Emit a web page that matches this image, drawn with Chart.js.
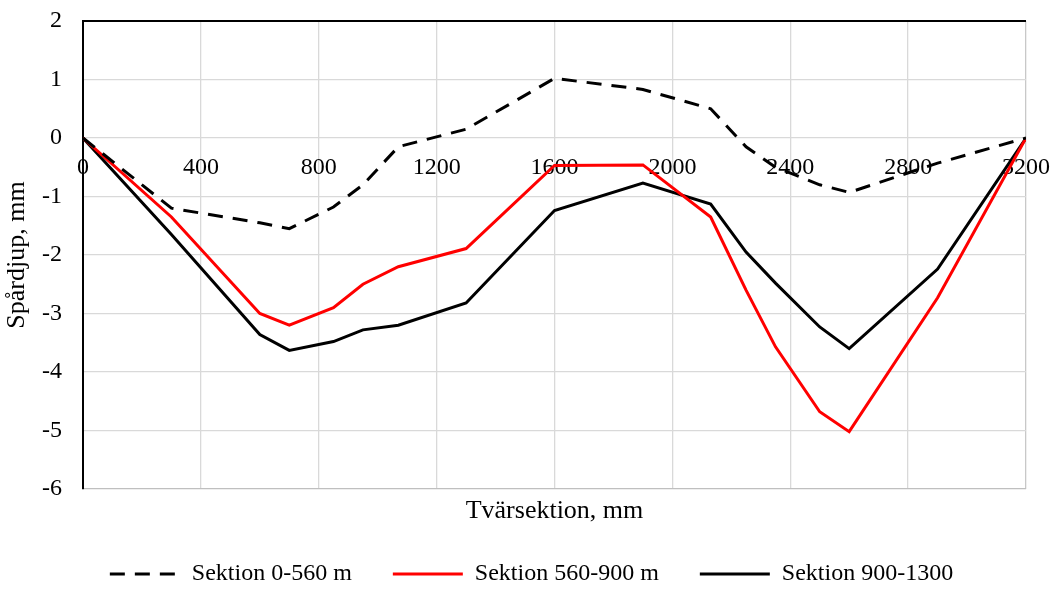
<!DOCTYPE html>
<html>
<head>
<meta charset="utf-8">
<script src="https://cdn.jsdelivr.net/npm/chart.js@4.4.0/dist/chart.umd.min.js"></script>
<style>
  html, body { margin: 0; padding: 0; background: #fff; }
</style>
</head>
<body>
<canvas id="myChart" width="1051" height="590"></canvas>
<script>
document.addEventListener("DOMContentLoaded", function () {
  const ctx = document.getElementById('myChart').getContext('2d');

  // Tvärsektion (mm) och spårdjup (mm) per sektion
  const tvarsektion = [0, 300, 600, 700, 850, 950, 1070, 1300, 1600, 1900, 2130, 2250, 2350, 2500, 2600, 2900, 3200];
  const sektion0_560 = [0, -1.2, -1.45, -1.55, -1.18, -0.8, -0.15, 0.15, 1.02, 0.83, 0.5, -0.15, -0.5, -0.8, -0.93, -0.43, 0];
  const sektion560_900 = [0, -1.35, -3.0, -3.2, -2.9, -2.5, -2.2, -1.89, -0.47, -0.46, -1.35, -2.6, -3.57, -4.68, -5.02, -2.73, 0];
  const sektion900_1300 = [0, -1.65, -3.36, -3.63, -3.48, -3.28, -3.2, -2.82, -1.24, -0.77, -1.13, -1.95, -2.48, -3.23, -3.6, -2.24, 0];
  const serieNamn = ['Sektion 0-560 m', 'Sektion 560-900 m', 'Sektion 900-1300'];

  const typsnitt = "'Liberation Serif', 'Times New Roman', serif";
  const punkter = (yv) => tvarsektion.map((x, i) => ({ x: x, y: yv[i] }));

  const myChart = new Chart(ctx, {
    type: 'line',
    data: {
      datasets: [{
        label: serieNamn[0],
        data: punkter(sektion0_560),
        borderColor: '#000000',
        backgroundColor: '#000000',
        borderWidth: 3,
        borderDash: [15, 10],
        pointRadius: 0,
        tension: 0
      }, {
        label: serieNamn[1],
        data: punkter(sektion560_900),
        borderColor: '#ff0000',
        backgroundColor: '#ff0000',
        borderWidth: 3,
        pointRadius: 0,
        tension: 0
      }, {
        label: serieNamn[2],
        data: punkter(sektion900_1300),
        borderColor: '#000000',
        backgroundColor: '#000000',
        borderWidth: 3,
        pointRadius: 0,
        tension: 0
      }]
    },
    options: {
      responsive: false,
      animation: false,
      layout: { padding: { left: 12, right: 0, top: 21, bottom: 0 } },
      scales: {
        x: {
          type: 'linear',
          min: 0,
          max: 3200,
          position: { y: 0 },
          ticks: {
            stepSize: 400,
            autoSkip: false,
            maxRotation: 0,
            padding: 15,
            color: '#000',
            font: { family: typsnitt, size: 24 },
            callback: (v) => String(v)
          },
          grid: {
            color: (c) => c.tick && c.tick.value === 3200 ? '#c8c8c8' : '#d9d9d9',
            lineWidth: 1.3,
            drawTicks: false
          },
          border: { display: false },
          afterFit: (s) => { s.paddingLeft = 0; s.paddingRight = 25; }
        },
        xb: {
          type: 'linear',
          position: 'bottom',
          min: 0,
          max: 3200,
          ticks: { display: false },
          grid: { display: false, drawTicks: false },
          border: { display: false },
          title: {
            display: true,
            text: 'Tvärsektion, mm',
            color: '#000',
            font: { family: typsnitt, size: 26 },
            padding: { top: 6.4, bottom: -5.6 }
          }
        },
        y: {
          min: -6,
          max: 2,
          ticks: {
            stepSize: 1,
            padding: 21,
            color: '#000',
            font: { family: typsnitt, size: 24 }
          },
          grid: {
            color: (c) => {
              if (!c.tick) return '#d9d9d9';
              if (c.tick.value === 2) return '#000000';
              if (c.tick.value === -6) return '#bfbfbf';
              return '#d9d9d9';
            },
            lineWidth: (c) => c.tick && c.tick.value === 2 ? 2 : 1.3,
            drawTicks: false
          },
          border: { display: true, color: '#000', width: 2 },
          title: {
            display: true,
            text: 'Spårdjup, mm',
            color: '#000',
            font: { family: typsnitt, size: 26 },
            padding: { top: -10, bottom: 0 }
          },
          afterFit: (s) => { s.width = 71; s.paddingTop = 0; s.paddingBottom = 0; }
        }
      },
      plugins: {
        legend: {
          position: 'bottom',
          maxHeight: 69,
          labels: {
            usePointStyle: true,
            pointStyle: 'line',
            pointStyleWidth: 70,
            padding: 41,
            color: '#000',
            font: { family: typsnitt, size: 24 },
            generateLabels: (chart) => {
              const items = Chart.defaults.plugins.legend.labels.generateLabels(chart);
              items.forEach((it) => {
                const ds = chart.data.datasets[it.datasetIndex];
                it.lineDash = ds.borderDash || [];
                it.lineWidth = 3;
                it.strokeStyle = ds.borderColor;
                it.lineCap = 'butt';
              });
              return items;
            }
          }
        },
        tooltip: { enabled: false }
      }
    }
  });
});
</script>
</body>
</html>
